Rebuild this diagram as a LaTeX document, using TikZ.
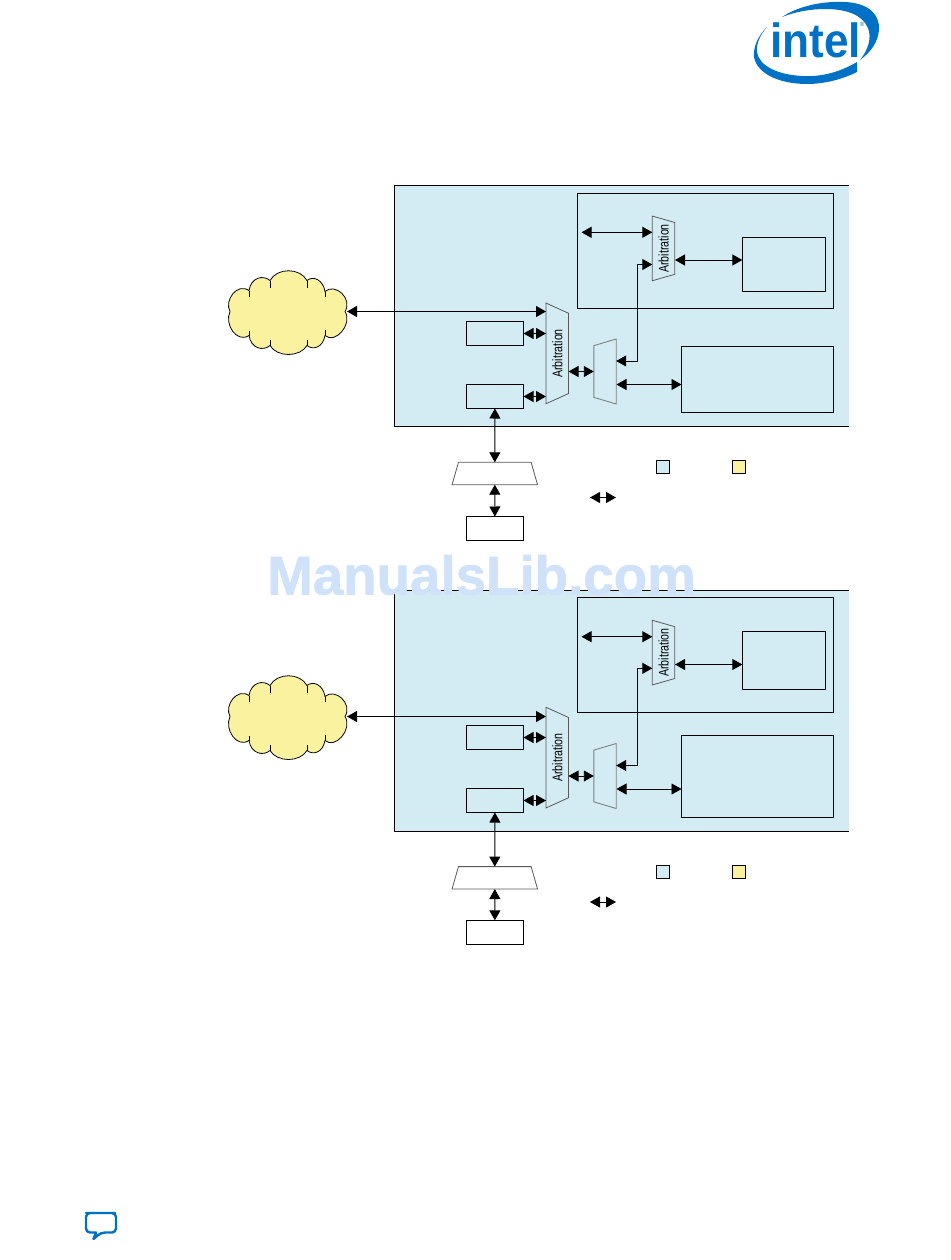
\documentclass[tikz,border=0pt]{standalone}
\usepackage{fontspec}
\setmainfont{Liberation Sans}
\newfontfamily\narrowfont[FakeStretch=0.76]{Liberation Sans}
\newfontfamily\stampfont[FakeBold=1.2]{Liberation Sans Bold}
\usetikzlibrary{arrows.meta,shapes.geometric}
\definecolor{panelblue}{HTML}{D3ECF3}
\definecolor{cloudyellow}{HTML}{FBF29F}
\definecolor{intelblue}{HTML}{0071C5}
\definecolor{stampblue}{HTML}{CFE2F9}
\newcommand{\bandrule}{\rule[-6pt]{0pt}{22.4pt}}
\tikzset{
  box/.style={draw,line width=.9pt,inner sep=0pt,outer sep=0pt},
  port/.style={box,minimum width=57.2pt,minimum height=24pt},
  link/.style={{Triangle[length=10pt,width=11pt]}-{Triangle[length=10pt,width=11pt]},line width=.9pt},
  swatch/.style={box,minimum width=13pt,minimum height=13.5pt},
  arblarge/.style={draw=black!65,line width=.8pt,trapezium,rotate=90,inner sep=0pt,outer sep=0pt,
    trapezium left angle=114.4,trapezium right angle=114.4,trapezium stretches body,
    minimum width=100.7pt,font=\narrowfont\fontsize{14}{14}\selectfont},
  arbsmall/.style={arblarge,trapezium left angle=106,trapezium right angle=106,minimum width=64.7pt},
  muxbox/.style={draw=black!50,line width=.9pt,trapezium,rotate=90,inner sep=0pt,outer sep=0pt,
    trapezium left angle=73.5,trapezium right angle=73.5,trapezium stretches body,
    minimum width=65pt},
  phybox/.style={draw=black!65,line width=.8pt,trapezium,inner sep=0pt,outer sep=0pt,
    trapezium left angle=74,trapezium right angle=74,trapezium stretches body,
    minimum width=85.5pt},
  puffcloud/.pic={
    \draw [fill=cloudyellow,line width=.8pt] (-57,-1)
      .. controls (-63,-12) and (-50,-30) .. (-38,-22)
      .. controls (-36,-35) and (-24,-38) .. (-17,-32)
      .. controls (-10,-45) and (13,-45) .. (20,-32)
      .. controls (26,-37) and (36,-33) .. (38,-21)
      .. controls (48,-30) and (66,-14) .. (58,-1)
      .. controls (66,12) and (48,32) .. (38,23)
      .. controls (36,35) and (26,38) .. (20,33)
      .. controls (13,45) and (-10,45) .. (-17,33)
      .. controls (-24,39) and (-36,36) .. (-38,23)
      .. controls (-50,31) and (-63,12) .. (-57,-1) -- cycle;
    \foreach \tickx/\ticka/\tickb in {-38/-22/-16,-17/-32/-25,20/-32/-25,38/-21/-16,38/23/17,20/33/27,-17/33/27,-38/23/18}
      \draw [line width=.8pt] (\tickx,\ticka) -- (\tickx,\tickb);
    \coordinate (-port) at (60,-1);
  },
}

\begin{document}
\begin{tikzpicture}[x=1pt,y=-1pt]
\useasboundingbox (0,0) rectangle (950,1260);

% logo
\fill [intelblue] (782,17) .. controls (800,5) and (825,1) .. (845,2)
  .. controls (868,3) and (880,14) .. (879,30) .. controls (878,42) and (871,52) .. (860,60)
  .. controls (868,50) and (872,38) .. (868,28) .. controls (862,14) and (845,9) .. (825,9)
  .. controls (810,9) and (795,12) .. (782,17) -- cycle;
\fill [intelblue] (767,27) .. controls (758,36) and (753,47) .. (754,57)
  .. controls (757,74) and (780,84) .. (807,84) .. controls (825,84) and (843,79) .. (857,72)
  -- (857,62) .. controls (840,72) and (822,77) .. (803,76)
  .. controls (778,75) and (759,66) .. (757,52) .. controls (756,44) and (760,35) .. (767,27) -- cycle;
\node [intelblue,inner sep=0pt,xscale=.92,font=\bfseries\fontsize{48}{48}\selectfont] (logotext) at (815.5,40) {intel};
\node [intelblue,inner sep=0pt,font=\fontsize{6}{6}\selectfont] (logomark) at (862,24) {\textregistered};

% upper diagram
\fill [panelblue] (394.5,185) rectangle (848.5,426.5);
\draw [line width=.9pt] (848.5,185) -- (394.5,185) -- (394.5,426.5) -- (848.5,426.5);
\node [box,minimum width=256pt,minimum height=114.5pt] (coreA) at (705.5,250.75) {};
\node [box,minimum width=83.4pt,minimum height=54pt] (memA) at (784,264.3) {};
\node [box,minimum width=152pt,minimum height=66pt] (fabricA) at (757.5,379.5) {};
\node [port] (masterA) at (494.9,333.5) {};
\node [port] (bridgeA) at (494.9,396.5) {};
\node [port] (deviceA) at (494.9,528.5) {};
\node [arblarge] (arbbigA) at (557.2,353.4) {\bandrule Arbitration};
\node [arbsmall] (arbcoreA) at (663.5,248.4) {\bandrule Arbitration};
\node [muxbox] (muxA) at (605,371.5) {\bandrule};
\node [phybox] (phyA) at (494.8,473.5) {\bandrule};
\pic (cloudA) at (287,312.5) {puffcloud};
\coordinate (coreportA) at (581.5,232.3);
\coordinate (upA) at (637.7,361);
\coordinate (upendA) at (637.7,264.5);
\coordinate (memportA) at (675,260);
\coordinate (fabricportA) at (616.5,384.5);
\coordinate (midportA) at (568.5,371.5);
\draw [link] (cloudA-port) -- (cloudA-port -| arbbigA.north);
\draw [link] (masterA.east) -- (masterA.east -| arbbigA.north);
\draw [link] (bridgeA.east) -- (bridgeA.east -| arbbigA.north);
\draw [link] (midportA) -- (midportA -| muxA.north);
\draw [link] (fabricportA) -- (fabricportA -| fabricA.west);
\draw [link] (coreportA) -- (coreportA -| arbcoreA.north);
\draw [link] (memportA) -- (memportA -| memA.west);
\draw [link] (upA -| muxA.south) -- (upA) -- (upendA) -- (upendA -| arbcoreA.north);
\draw [link] (bridgeA.south) -- (phyA.north);
\draw [link] (phyA.south) -- (deviceA.north);
\node [swatch,fill=panelblue] (keyblueA) at (663,466.7) {};
\node [swatch,fill=cloudyellow] (keyyellowA) at (739,466.7) {};
\coordinate (keyleftA) at (590,497.5);
\coordinate (keyrightA) at (616,497.5);
\draw [link] (keyleftA) -- (keyrightA);

% lower diagram
\fill [panelblue] (394.5,590.5) rectangle (848.5,831.5);
\draw [line width=.9pt] (848.5,590.5) -- (394.5,590.5) -- (394.5,831.5) -- (848.5,831.5);
\node [box,minimum width=256pt,minimum height=115pt] (coreB) at (705.5,655) {};
\node [box,minimum width=83.4pt,minimum height=58pt] (memB) at (784,660.5) {};
\node [box,minimum width=152pt,minimum height=82pt] (fabricB) at (757.5,776.5) {};
\node [port] (masterB) at (494.9,737.5) {};
\node [port] (bridgeB) at (494.9,800.5) {};
\node [port] (deviceB) at (494.9,932.3) {};
\node [arblarge] (arbbigB) at (557.2,757.6) {\bandrule Arbitration};
\node [arbsmall] (arbcoreB) at (663.5,652.6) {\bandrule Arbitration};
\node [muxbox] (muxB) at (605,776) {\bandrule};
\node [phybox] (phyB) at (494.8,877.8) {\bandrule};
\pic (cloudB) at (287,717.5) {puffcloud};
\coordinate (coreportB) at (581.5,636.7);
\coordinate (upB) at (637.5,765.5);
\coordinate (upendB) at (637.5,668.3);
\coordinate (memportB) at (675,664.5);
\coordinate (fabricportB) at (616.5,789);
\coordinate (midportB) at (568.5,776);
\draw [link] (cloudB-port) -- (cloudB-port -| arbbigB.north);
\draw [link] (masterB.east) -- (masterB.east -| arbbigB.north);
\draw [link] (bridgeB.east) -- (bridgeB.east -| arbbigB.north);
\draw [link] (midportB) -- (midportB -| muxB.north);
\draw [link] (fabricportB) -- (fabricportB -| fabricB.west);
\draw [link] (coreportB) -- (coreportB -| arbcoreB.north);
\draw [link] (memportB) -- (memportB -| memB.west);
\draw [link] (upB -| muxB.south) -- (upB) -- (upendB) -- (upendB -| arbcoreB.north);
\draw [link] (bridgeB.south) -- (phyB.north);
\draw [link] (phyB.south) -- (deviceB.north);
\node [swatch,fill=panelblue] (keyblueB) at (663,871.7) {};
\node [swatch,fill=cloudyellow] (keyyellowB) at (739,871.7) {};
\coordinate (keyleftB) at (590,902);
\coordinate (keyrightB) at (616,902);
\draw [link] (keyleftB) -- (keyrightB);

% page furniture
\node [stampblue,inner sep=0pt,font=\stampfont\fontsize{54.7}{55}\selectfont] (stamp) at (481.5,575) {ManualsLib.com};
\draw [intelblue,line width=2.4pt,line join=round,rounded corners=4pt] (90,1213) -- (111,1213) -- (116,1213)
  -- (116,1232.5) -- (101,1232.5) [sharp corners] -- (93.5,1239) -- (96,1232.5) [rounded corners=4pt] -- (86,1232.5) -- (86,1213) -- cycle;
\end{tikzpicture}
\end{document}
